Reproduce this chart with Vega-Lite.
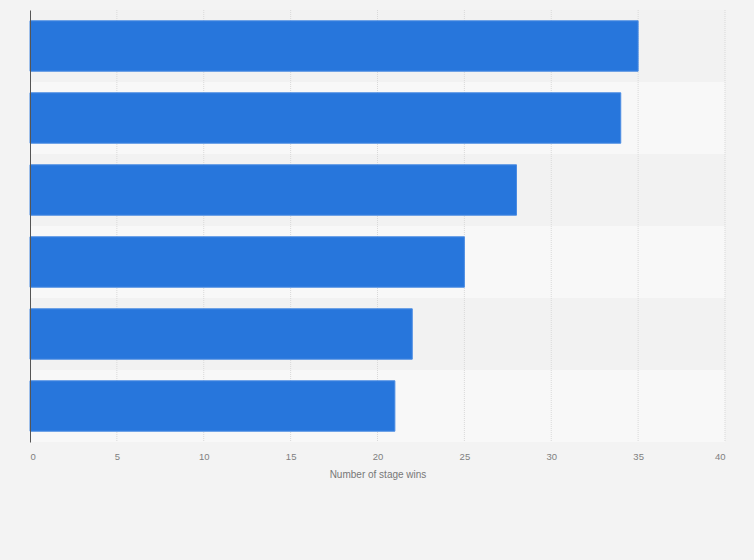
{
  "$schema": "https://vega.github.io/schema/vega-lite/v6.json",
  "autosize": "none",
  "width": 695,
  "height": 432,
  "padding": {"left": 30, "top": 10, "right": 29, "bottom": 118},
  "background": "#f3f3f3",
  "config": {
    "view": {"stroke": null},
    "font": "Liberation Sans"
  },
  "datasets": {
    "wins": [
      {"rider": "Mark Cavendish", "wins": 35},
      {"rider": "Eddy Merckx", "wins": 34},
      {"rider": "Bernard Hinault", "wins": 28},
      {"rider": "André Leducq", "wins": 25},
      {"rider": "André Darrigade", "wins": 22},
      {"rider": "Nicolas Frantz", "wins": 21}
    ],
    "ticks": [
      {"v": 5}, {"v": 10}, {"v": 15}, {"v": 20},
      {"v": 25}, {"v": 30}, {"v": 35}, {"v": 40}
    ]
  },
  "layer": [
    {
      "data": {"name": "wins"},
      "transform": [{"window": [{"op": "row_number", "as": "rank"}]}],
      "mark": {"type": "bar", "height": {"band": 1}},
      "encoding": {
        "y": {"field": "rider", "type": "nominal", "sort": null},
        "x": {"datum": 0, "type": "quantitative"},
        "x2": {"datum": 40},
        "color": {
          "condition": {"test": "datum.rank % 2 === 1", "value": "#f2f2f2"},
          "value": "#f8f8f8"
        }
      }
    },
    {
      "data": {"name": "ticks"},
      "mark": {"type": "rule", "color": "#d9d9d9", "strokeDash": [1, 1], "strokeWidth": 1},
      "encoding": {
        "x": {"field": "v", "type": "quantitative"}
      }
    },
    {
      "data": {"name": "wins"},
      "mark": {"type": "bar", "height": {"band": 0.7}, "color": "#2776dc", "stroke": "#4b8ce3", "strokeWidth": 1},
      "encoding": {
        "y": {
          "field": "rider",
          "type": "nominal",
          "sort": null,
          "scale": {"paddingInner": 0, "paddingOuter": 0},
          "axis": {
            "title": null,
            "labels": false,
            "ticks": false,
            "domainColor": "#555555",
            "domainWidth": 1,
            "zindex": 1
          }
        },
        "x": {
          "field": "wins",
          "type": "quantitative",
          "scale": {"domain": [0, 40], "nice": false},
          "axis": {
            "title": "Number of stage wins",
            "values": [0, 5, 10, 15, 20, 25, 30, 35, 40],
            "grid": false,
            "domain": false,
            "ticks": false,
            "labelFlush": true,
            "labelPadding": 9,
            "labelFontSize": 9.5,
            "labelColor": "#808080",
            "titleFontSize": 10,
            "titleFontWeight": "normal",
            "titleColor": "#777777",
            "titlePadding": 9
          }
        },
        "tooltip": [
          {"field": "rider", "type": "nominal", "title": "Rider"},
          {"field": "wins", "type": "quantitative", "title": "Stage wins"}
        ]
      }
    }
  ]
}
